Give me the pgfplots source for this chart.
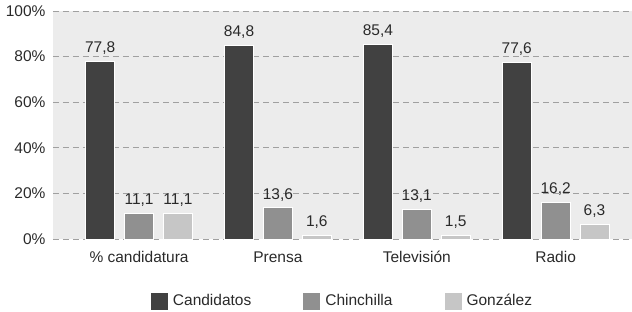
\documentclass[border=0pt]{standalone}
\usepackage{pgfplots}
\pgfplotsset{compat=1.18}
\usepackage{fontspec}
\setmainfont{Liberation Sans}
\definecolor{cDark}{HTML}{414141}
\definecolor{cMid}{HTML}{909090}
\definecolor{cLight}{HTML}{C6C6C6}
\definecolor{cBack}{HTML}{ECECEC}
\definecolor{cGrid}{HTML}{A0A0A0}
\definecolor{cText}{HTML}{2A2A2A}
\newcommand{\fs}{\fontsize{15.5}{18}\selectfont\color{cText}}
\begin{document}
\begin{tikzpicture}
\useasboundingbox (-53pt,-72pt) rectangle (579pt,239pt);
\begin{axis}[
  scale only axis,
  width=579pt, height=228pt,
  at={(0pt,0pt)}, anchor=south west,
  ybar,
  bar width=0.209,
  ymin=0, ymax=100,
  xmin=-0.62, xmax=3.55,
  ytick={0,20,40,60,80,100},
  yticklabel={\pgfmathprintnumber{\tick}\%},
  xtick={0,1,2,3},
  xticklabels={\% candidatura, Prensa, Televisión, Radio},
  axis line style={draw=none},
  axis background/.style={fill=cBack},
  ymajorgrids,
  major grid style={cGrid, line width=1pt, dash pattern=on 6pt off 4pt},
  major tick length=0pt,
  tick style={draw=none},
  /pgf/number format/assume math mode=true,
  /pgf/number format/use comma,
  font=\fs,
  ticklabel style={font=\fs},
  xticklabel style={yshift=-9pt},
  yticklabel style={xshift=-4pt},
  nodes near coords,
  nodes near coords style={font=\fs,
     /pgf/number format/fixed, /pgf/number format/precision=1,
     /pgf/number format/fixed zerofill, yshift=3pt},
  legend style={at={(0.5,-0.272)}, anchor=center, draw=none, fill=none,
     legend columns=3, font=\fs,
     /tikz/every odd column/.append style={column sep=3pt},
     /tikz/every even column/.append style={column sep=50pt}},
  legend image code/.code={\fill[#1,draw=none] (0pt,-8.5pt) rectangle (17pt,8.5pt);},
  clip=false,
]
\addplot[fill=cDark, draw=white, line width=1pt, bar shift=-0.28] coordinates {(0,77.8) (1,84.8) (2,85.4) (3,77.6)};
\addplot[fill=cMid, draw=white, line width=1pt, bar shift=0] coordinates {(0,11.1) (1,13.6) (2,13.1) (3,16.2)};
\addplot[fill=cLight, draw=white, line width=1pt, bar shift=0.28] coordinates {(0,11.1) (1,1.6) (2,1.5) (3,6.3)};
\legend{Candidatos, Chinchilla, González}
\end{axis}
\end{tikzpicture}
\end{document}
